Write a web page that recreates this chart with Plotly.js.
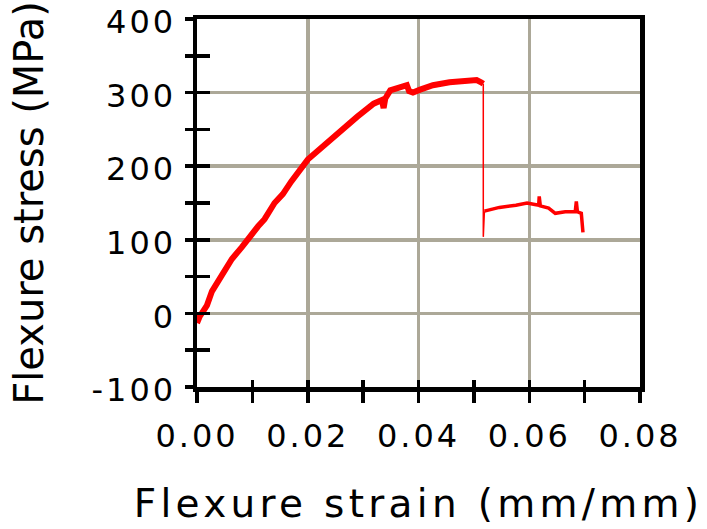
<!DOCTYPE html>
<html>
<head>
<meta charset="utf-8">
<script src="https://cdn.plot.ly/plotly-3.0.1.min.js"></script>
<style>
  html, body { margin: 0; padding: 0; background: #fff; }
  #chart { width: 707px; height: 529px; }
  .xtick text, .ytick text { letter-spacing: 3px; }
  .xtitle { letter-spacing: 4.3px; }
</style>
</head>
<body>
<div id="chart"></div>
<script>
// Flexure test: stress vs strain
var preStrain = [0.0000, 0.0005, 0.0018, 0.0027, 0.0045, 0.0063, 0.0081, 0.0093, 0.0110, 0.0122, 0.0140, 0.0155, 0.0170, 0.0200, 0.0230, 0.0260, 0.0289, 0.0319, 0.0334, 0.0337, 0.0340, 0.0349, 0.0365, 0.0379, 0.0383, 0.0390, 0.0403, 0.0426, 0.0456, 0.0486, 0.0505, 0.0513, 0.0517];
var preStress = [-13, -4, 11, 30, 52, 74, 90, 103, 118, 128, 150, 162, 179, 209, 229, 249, 267, 285, 290, 279, 292, 303, 306, 310, 302, 300, 304, 310, 314, 316, 317, 314, 312];

var dropStrain = [0.0517, 0.0517, 0.0519];
var dropStress = [312, 104, 139];

var postStrain = [0.0519, 0.0530, 0.0546, 0.0576, 0.0596, 0.0610, 0.0617, 0.0618, 0.0620, 0.0635, 0.0647, 0.0665, 0.0683, 0.0685, 0.0687, 0.0694, 0.0697];
var postStress = [139, 141, 144, 147, 150, 148, 147, 159, 146, 143, 136, 138, 138, 152, 138, 136, 110];

var xTickVals = [0, 0.02, 0.04, 0.06, 0.08];
var xTickText = ['0.00', '0.02', '0.04', '0.06', '0.08'];
var yTickVals = [-100, 0, 100, 200, 300, 400];
var yTickText = ['-100', '0', '100', '200', '300', '400'];

var xTitle = 'Flexure strain (mm/mm)';
var yTitle = 'Flexure stress (MPa)';

var red = '#ff0000';
var gridCol = '#aca898';
var font = 'DejaVu Sans, Verdana, sans-serif';

var traces = [
  { x: preStrain, y: preStress, type: 'scatter', mode: 'lines',
    line: { color: red, width: 6 }, hoverinfo: 'skip' },
  { x: dropStrain, y: dropStress, type: 'scatter', mode: 'lines',
    line: { color: red, width: 1.5 }, hoverinfo: 'skip' },
  { x: postStrain, y: postStress, type: 'scatter', mode: 'lines',
    line: { color: red, width: 3.5 }, hoverinfo: 'skip' },
  { x: [], y: [], type: 'scatter', mode: 'lines', xaxis: 'x2', yaxis: 'y2', hoverinfo: 'skip' }
];

var layout = {
  width: 707, height: 529, autosize: false,
  margin: { l: 197, r: 67, t: 19, b: 142, pad: 0 },
  paper_bgcolor: '#ffffff', plot_bgcolor: '#ffffff',
  showlegend: false,
  font: { family: font, color: '#000' },
  xaxis: {
    range: [0, 0.08], tickmode: 'array', tickvals: xTickVals, ticktext: xTickText,
    ticks: 'outside', ticklen: 11, tickwidth: 3.5, tickcolor: '#000',
    minor: { dtick: 0.01, tick0: 0, ticks: 'outside', ticklen: 11, tickwidth: 3.5, tickcolor: '#000', showgrid: false },
    showline: true, linewidth: 4.5, linecolor: '#000', mirror: true,
    showgrid: true, gridcolor: gridCol, gridwidth: 3.5, zeroline: false,
    tickfont: { family: font, size: 32, color: '#000' },
    ticklabelstandoff: 6, ticklabeloverflow: 'allow',
    title: { text: xTitle, font: { family: font, size: 39, color: '#000' }, standoff: 37 }
  },
  yaxis: {
    range: [-100, 400], tickmode: 'array', tickvals: yTickVals, ticktext: yTickText,
    ticks: 'outside', ticklen: 8, tickwidth: 3.5, tickcolor: '#000',
    minor: { dtick: 50, tick0: 0, ticks: 'outside', ticklen: 8, tickwidth: 3.5, tickcolor: '#000', showgrid: false },
    showline: true, linewidth: 4.5, linecolor: '#000', mirror: true,
    showgrid: true, gridcolor: gridCol, gridwidth: 3.5, zeroline: false,
    tickfont: { family: font, size: 32, color: '#000' },
    ticklabelstandoff: 2, ticklabelshift: 3, ticklabeloverflow: 'allow',
    title: { text: yTitle, font: { family: font, size: 40, color: '#000' }, standoff: 37 }
  },
  xaxis2: {
    overlaying: 'x', anchor: 'y2', side: 'bottom', range: [0, 0.08], tick0: 0, dtick: 0.01,
    ticks: 'inside', ticklen: 7, tickwidth: 3.5, tickcolor: '#000',
    showticklabels: false, showgrid: false, showline: false, zeroline: false
  },
  yaxis2: {
    overlaying: 'y', anchor: 'x2', side: 'left', range: [-100, 400], tick0: 0, dtick: 50,
    ticks: 'inside', ticklen: 13, tickwidth: 3.5, tickcolor: '#000',
    showticklabels: false, showgrid: false, showline: false, zeroline: false
  }
};

Plotly.newPlot('chart', traces, layout, { staticPlot: true, displayModeBar: false });
</script>
</body>
</html>
